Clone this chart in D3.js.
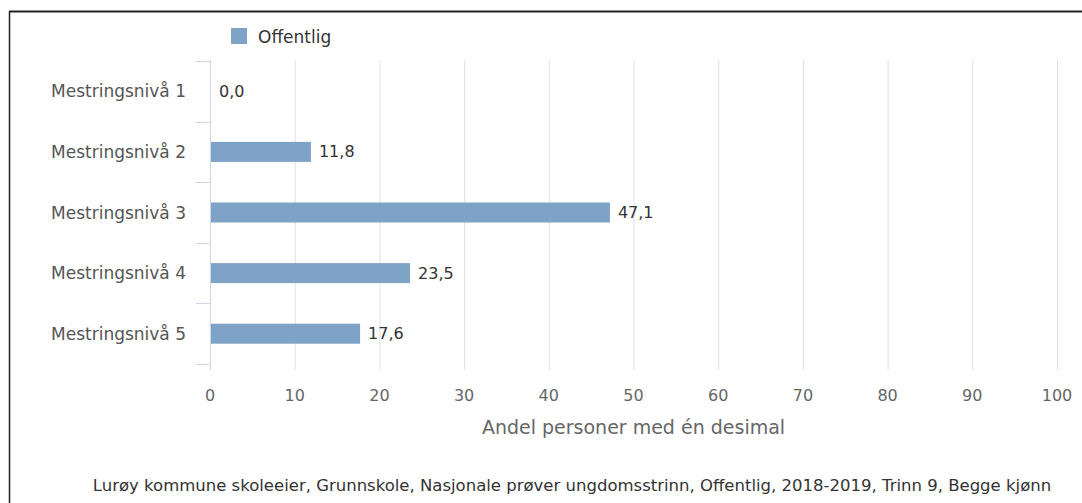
<!DOCTYPE html>
<html>
<head>
<meta charset="utf-8">
<script src="https://cdn.jsdelivr.net/npm/d3@7"></script>
<style>
  body { margin: 0; background: #fff; }
  svg { font-family: "DejaVu Sans", Verdana, sans-serif; }
</style>
</head>
<body>
<svg id="chart" width="1082" height="503"></svg>
<script>
const categories = ['Mestringsnivå 1', 'Mestringsnivå 2', 'Mestringsnivå 3', 'Mestringsnivå 4', 'Mestringsnivå 5'];
const values = [0.0, 11.8, 47.1, 23.5, 17.6];
const xTicks = [0, 10, 20, 30, 40, 50, 60, 70, 80, 90, 100];
const seriesName = 'Offentlig';
const axisTitle = 'Andel personer med én desimal';
const caption = 'Lurøy kommune skoleeier, Grunnskole, Nasjonale prøver ungdomsstrinn, Offentlig, 2018-2019, Trinn 9, Begge kjønn';

const svg = d3.select('#chart');
const plotLeft = 210, plotRight = 1057, plotTop = 61, plotBottom = 364;
const barColor = '#7fa3c7';

// frame
svg.append('line').attr('x1', 9).attr('x2', 1082).attr('y1', 11.5).attr('y2', 11.5)
  .attr('stroke', '#222').attr('stroke-width', 2);
svg.append('line').attr('x1', 9.5).attr('x2', 9.5).attr('y1', 11).attr('y2', 503)
  .attr('stroke', '#222').attr('stroke-width', 1.5);

const x = d3.scaleLinear().domain([0, 100]).range([plotLeft, plotRight]);
const y = d3.scaleBand().domain(categories).range([plotTop, plotBottom]);

// grid
svg.append('g').selectAll('line').data(xTicks.slice(1)).enter().append('line')
  .attr('x1', d => x(d) + 0.5).attr('x2', d => x(d) + 0.5)
  .attr('y1', 60).attr('y2', 370)
  .attr('stroke', '#e0e0e0').attr('stroke-width', 1);

// y axis line + ticks
svg.append('line').attr('x1', plotLeft + 0.5).attr('x2', plotLeft + 0.5).attr('y1', 60).attr('y2', 370)
  .attr('stroke', '#ccd6eb');
const bounds = categories.map(c => y(c)).concat([plotBottom]);
svg.append('g').selectAll('line').data(bounds).enter().append('line')
  .attr('x1', 196).attr('x2', plotLeft).attr('y1', d => Math.round(d) + 0.5).attr('y2', d => Math.round(d) + 0.5)
  .attr('stroke', '#ccd6eb');

svg.append('g').selectAll('text').data(categories).enter().append('text')
  .attr('x', 186).attr('y', d => y(d) + y.bandwidth() / 2)
  .attr('text-anchor', 'end').attr('dominant-baseline', 'central')
  .attr('font-size', 17).attr('fill', '#555')
  .text(d => d);

// bars
const barH = 20;
svg.append('g').selectAll('rect').data(values).enter().append('rect')
  .attr('x', x(0) + 1)
  .attr('y', (d, i) => y(categories[i]) + y.bandwidth() / 2 - barH / 2)
  .attr('width', d => Math.max(0, x(d) - x(0)))
  .attr('height', barH)
  .attr('fill', barColor);

svg.append('g').selectAll('text').data(values).enter().append('text')
  .attr('x', d => x(d) + 9)
  .attr('y', (d, i) => y(categories[i]) + y.bandwidth() / 2)
  .attr('dominant-baseline', 'central')
  .attr('font-size', 16).attr('fill', '#333')
  .text(d => d.toFixed(1).replace('.', ','));

// x tick labels
svg.append('g').selectAll('text').data(xTicks).enter().append('text')
  .attr('x', d => x(d)).attr('y', 395)
  .attr('text-anchor', 'middle').attr('dominant-baseline', 'central')
  .attr('font-size', 16).attr('fill', '#666')
  .text(d => d);

svg.append('text').attr('x', (plotLeft + plotRight) / 2).attr('y', 427)
  .attr('text-anchor', 'middle').attr('dominant-baseline', 'central')
  .attr('font-size', 19).attr('fill', '#666')
  .text(axisTitle);

// legend
svg.append('rect').attr('x', 231).attr('y', 28).attr('width', 16).attr('height', 16).attr('fill', barColor);
svg.append('text').attr('x', 258).attr('y', 37).attr('dominant-baseline', 'central')
  .attr('font-size', 17).attr('fill', '#333').text(seriesName);

// caption
svg.append('text').attr('x', 572).attr('y', 485)
  .attr('text-anchor', 'middle').attr('dominant-baseline', 'central')
  .attr('font-size', 16.5).attr('fill', '#333').text(caption);
</script>
</body>
</html>
